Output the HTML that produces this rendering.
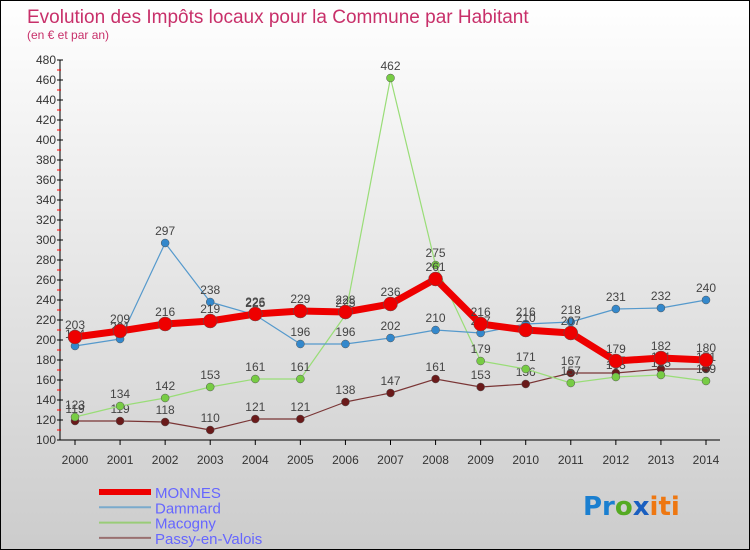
<!DOCTYPE html>
<html><head><meta charset="utf-8"><style>
html,body{margin:0;padding:0}
body{width:750px;height:550px;overflow:hidden;font-family:"Liberation Sans",sans-serif}
</style></head><body>
<svg id="chart" width="750" height="550" xmlns="http://www.w3.org/2000/svg" style="display:block">
<defs>
<linearGradient id="bg" x1="0" y1="0" x2="0" y2="1"><stop offset="0" stop-color="#ffffff"/><stop offset="1" stop-color="#cccccc"/></linearGradient>
</defs>
<rect x="0" y="0" width="750" height="550" fill="url(#bg)" stroke="#000" stroke-width="2"/>
<text x="27" y="23" font-size="19" fill="#c8306a">Evolution des Impôts locaux pour la Commune par Habitant</text>
<text x="27" y="39" font-size="12" fill="#c8306a">(en € et par an)</text>
<g id="axes"></g>
<g id="series"></g>
<g id="legend"></g>
<text x="583" y="515" font-size="26" font-family="'DejaVu Sans',sans-serif" font-weight="bold"><tspan fill="#1a7fd0">Pr</tspan><tspan fill="#55aa22">o</tspan><tspan fill="#1a5fc0">x</tspan><tspan fill="#ee7711">iti</tspan></text>
</svg>
<script>
const years=[2000,2001,2002,2003,2004,2005,2006,2007,2008,2009,2010,2011,2012,2013,2014];
const yTicks=[100,120,140,160,180,200,220,240,260,280,300,320,340,360,380,400,420,440,460,480];
const monnes=[203,209,216,219,226,229,228,236,261,216,210,207,179,182,180];
const dammard=[194,201,297,238,225,196,196,202,210,207,216,218,231,232,240];
const macogny=[123,134,142,153,161,161,225,462,275,179,171,157,163,165,159];
const passy=[119,119,118,110,121,121,138,147,161,153,156,167,167,171,171];
const NS="http://www.w3.org/2000/svg";
function X(i){return 75+i*(706-75)/(years.length-1);}
function Y(v){return 440-(v-100)*(380/380);}
function mk(tag,attrs,parent){const e=document.createElementNS(NS,tag);for(const k in attrs)e.setAttribute(k,attrs[k]);parent.appendChild(e);return e;}
const axes=document.getElementById('axes');
let ya=mk('line',{x1:60,y1:Y(480),x2:60,y2:Y(100),stroke:'#000','stroke-width':1},axes);


yTicks.forEach(v=>{
  let t=mk('line',{x1:57,y1:Y(v),x2:63,y2:Y(v),stroke:'#000'},axes);
  
  
  let m=mk('line',{x1:57,y1:Y(v+10),x2:61,y2:Y(v+10),stroke:'#f00'},axes);
  if(v===480)m.setAttribute('stroke','none');
  
  
  let l=mk('text',{x:56,y:Y(v)+4,'font-size':12,fill:'#333','text-anchor':'end'},axes);
  l.textContent=v;
  
  
});
let xa=mk('line',{x1:60,y1:Y(100),x2:720,y2:Y(100),stroke:'#000'},axes);


years.forEach((yr,i)=>{
  let t=mk('line',{x1:X(i),y1:Y(100),x2:X(i),y2:Y(100)+5,stroke:'#000'},axes);
  
  
  let l=mk('text',{x:X(i),y:Y(100)+24,'font-size':12,fill:'#333','text-anchor':'middle'},axes);
  l.textContent=yr;
  
  
});
const ser=document.getElementById('series');
function draw(vals,color,w,r,name,dot){
  const g=mk('g',{},ser);
  
  
  let p=mk('polyline',{points:vals.map((v,i)=>X(i)+','+Y(v)).join(' '),fill:'none',stroke:color,'stroke-width':w,'stroke-linejoin':'round'},g);
  
  
  vals.forEach((v,i)=>{
    let c=mk('circle',{cx:X(i),cy:Y(v),r:r,fill:dot,stroke:'#555','stroke-width':0.5},g);
    
    
    let t=mk('text',{x:X(i),y:Y(v)-8,'font-size':12,fill:'#444','text-anchor':'middle'},g);
    t.textContent=v;
    
    
  });
}
draw(passy,'#7a3535',1.2,4,'passy','#6a1a1a');
draw(macogny,'#99dd77',1.2,4,'macogny','#77cc44');
draw(dammard,'#5599cc',1.2,4,'dammard','#3388cc');
draw(monnes,'#ee0000',7,7,'monnes','#ee0000');
const leg=document.getElementById('legend');
[['MONNES','#ee0000',6],['Dammard','#7aaacc',2],['Macogny','#99cc77',2],['Passy-en-Valois','#997070',2]].forEach((d,i)=>{
  const y=492+i*15.3;
  let l=mk('line',{x1:99,y1:y,x2:151,y2:y,stroke:d[1],'stroke-width':d[2]},leg);
  
  
  let t=mk('text',{x:155,y:y+6,'font-size':15,fill:'#6666ff'},leg);
  t.textContent=d[0];
  
  
});
</script>
</body></html>
